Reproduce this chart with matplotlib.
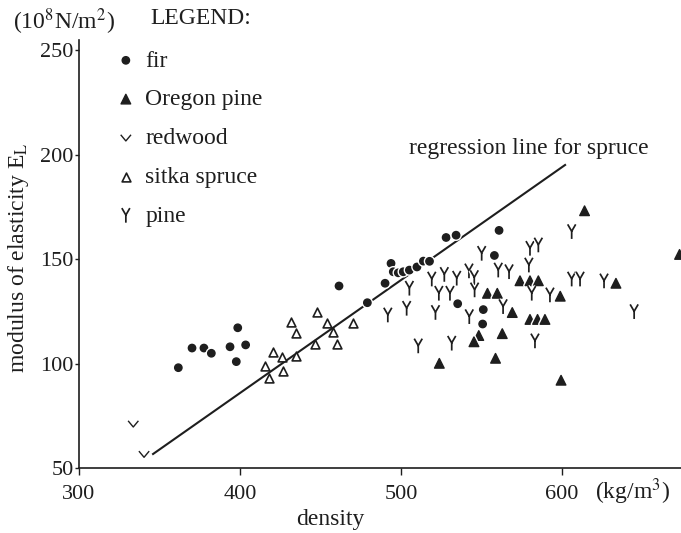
import numpy as np
import matplotlib
matplotlib.use("Agg")
import matplotlib.pyplot as plt
import matplotlib.patheffects as pe
from matplotlib.path import Path

# valores (densidade kg/m3, modulo 10^8 N/m2)
fir_x = [361.7, 370.2, 377.6, 382.2, 393.8, 398.6, 403.5, 397.7, 461.5, 479.1,
         490.1, 493.8, 495.2, 498.3, 501.4, 505.2, 509.9, 513.9, 517.7, 528.0,
         534.2, 560.9, 558.0, 535.2, 551.1, 550.7]
fir_y = [98.0, 107.4, 107.4, 104.9, 108.0, 117.1, 108.9, 100.9, 137.1, 129.1,
         138.4, 147.9, 143.9, 143.4, 143.9, 144.7, 146.2, 149.0, 148.9, 160.3,
         161.4, 163.7, 151.7, 128.6, 125.8, 118.9]

oregon_x = [553.7, 559.8, 573.9, 580.1, 585.3, 598.9, 569.1, 580.1, 584.8, 589.4,
            548.3, 545.3, 562.9, 558.7, 523.8, 599.4, 614.0, 633.5, 673.0]
oregon_y = [133.6, 133.6, 139.6, 139.6, 139.6, 132.2, 124.4, 121.1, 121.1, 121.1,
            113.4, 110.4, 114.3, 102.5, 100.1, 92.0, 173.1, 138.4, 152.2]

redwood_x = [333.7, 340.4]
redwood_y = [71.1, 56.6]

sitka_x = [431.9, 434.8, 447.6, 454.2, 457.6, 470.4, 446.8, 460.4, 434.8, 420.3,
           425.8, 415.8, 426.4, 418.1]
sitka_y = [119.9, 114.4, 124.5, 119.2, 115.2, 119.2, 109.3, 109.2, 103.6, 105.7,
           102.9, 98.8, 96.5, 92.9]

pine_x = [550.1, 580.1, 585.3, 579.4, 560.4, 567.1, 542.2, 519.1, 526.9, 534.6,
          545.5, 545.7, 523.5, 530.4, 505.2, 606.0, 606.0, 611.2, 626.1, 581.2,
          592.5, 563.4, 491.8, 503.5, 521.4, 542.4, 644.8, 510.7, 531.5, 583.2]
pine_y = [152.7, 155.1, 156.7, 147.1, 144.7, 143.9, 144.3, 140.4, 142.6, 140.8,
          141.1, 135.2, 133.6, 133.6, 136.0, 163.1, 140.4, 140.4, 139.5, 133.6,
          132.8, 127.2, 123.2, 126.4, 124.4, 122.4, 124.8, 108.4, 109.7, 110.8]

# reta de regressao para spruce (extremos)
reg_x = [346.0, 601.9]
reg_y = [56.7, 195.0]

xticks = [300, 400, 500, 600]
yticks = [50, 100, 150, 200, 250]

INK = "#1e1e1e"
FS = 17

plt.rcParams['font.family'] = ['Liberation Serif', 'DejaVu Serif']
plt.rcParams['mathtext.fontset'] = 'stix'

# marcadores desenhados a mao
y_marker = Path([(-0.55, 1.0), (0.0, 0.05), (0.55, 1.0), (0.0, 0.05), (0.0, -1.0)],
                [Path.MOVETO, Path.LINETO, Path.LINETO, Path.MOVETO, Path.LINETO])
v_marker = Path([(-1.0, 0.6), (0.0, -0.6), (1.0, 0.6)],
                [Path.MOVETO, Path.LINETO, Path.LINETO])


def main():
    fig = plt.figure(figsize=(6.81, 5.33), dpi=100)
    ax = fig.add_axes([79 / 681, 65 / 533, 602 / 681, 428 / 533])

    halo = [pe.withStroke(linewidth=3, foreground="white")]

    ax.plot(reg_x, reg_y, color=INK, lw=1.5, zorder=2)

    h_fir = ax.scatter(fir_x, fir_y, s=28, marker="o", color=INK, zorder=3,
                       path_effects=halo, label="fir")
    h_or = ax.scatter(oregon_x, oregon_y, s=48, marker="^", color=INK, zorder=3,
                      path_effects=halo, label="Oregon pine")
    h_rw = ax.scatter(redwood_x, redwood_y, s=55, marker=v_marker, facecolors="none",
                      edgecolors=INK, linewidths=1.0, zorder=3, label="redwood")
    h_sp = ax.scatter(sitka_x, sitka_y, s=40, marker="^", facecolors="white",
                      edgecolors=INK, linewidths=1.2, zorder=3, label="sitka spruce")
    h_pi = ax.scatter(pine_x, pine_y, s=110, marker=y_marker, facecolors="none",
                      edgecolors=INK, linewidths=1.25, zorder=3,
                      path_effects=halo, label="pine")

    ax.set_xlim(300, 673.9)
    ax.set_ylim(50, 254.8)
    ax.set_xticks(xticks)
    ax.set_yticks(yticks)
    ax.tick_params(axis="x", direction="out", length=5, width=1, pad=7,
                   labelsize=16, colors=INK)
    ax.tick_params(axis="y", direction="out", length=3, width=1, pad=1,
                   labelsize=16, colors=INK)
    for s in ["top", "right"]:
        ax.spines[s].set_visible(False)
    for s in ["left", "bottom"]:
        ax.spines[s].set_linewidth(1.2)
        ax.spines[s].set_color(INK)

    # textos
    fig.text(13 / 681, 1 - 22 / 533, "(10$^8$N/m$^2$)", fontsize=FS, color=INK,
             ha="left", va="center")
    fig.text(150 / 681, 1 - 19 / 533, "LEGEND:", fontsize=FS, color=INK,
             ha="left", va="center")
    fig.text(19 / 681, 1 - 258 / 533, "modulus of elasticity E$_\\mathrm{L}$",
             fontsize=FS, color=INK, rotation=90, ha="center", va="center")
    fig.text(330 / 681, 1 - 519 / 533, "density", fontsize=FS, color=INK,
             ha="center", va="center")
    fig.text(595 / 681, 1 - 492 / 533, "(kg/m$^3$)", fontsize=FS, color=INK,
             ha="left", va="center")
    fig.text(529 / 681, 1 - 148 / 533, "regression line for spruce", fontsize=FS,
             color=INK, ha="center", va="center")

    ax.legend(handles=[h_fir, h_or, h_rw, h_sp, h_pi], loc="upper left",
              bbox_to_anchor=(117 / 681, 1 - 50 / 533),
              bbox_transform=fig.transFigure, frameon=False, fontsize=FS,
              handlelength=0.75, handletextpad=0.45, labelspacing=0.73,
              borderpad=0, borderaxespad=0, labelcolor=INK)

    fig.savefig("out.png", dpi=100)


if __name__ == "__main__":
    main()
